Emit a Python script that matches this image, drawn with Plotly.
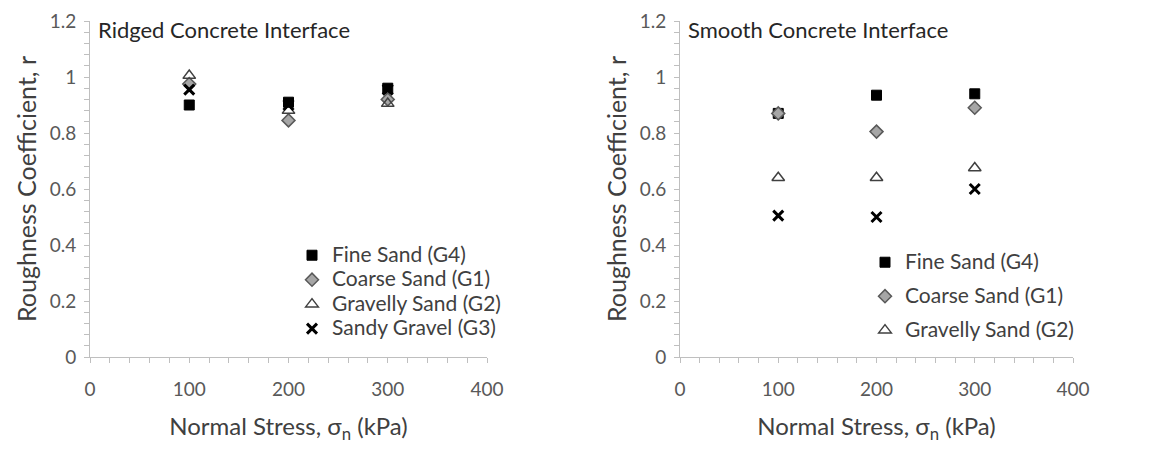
import plotly.graph_objects as go

# Normal stress levels (kPa)
stress = [100, 200, 300]

# Roughness coefficient r, ridged concrete interface
ridged_fine = [0.90, 0.91, 0.96]
ridged_coarse = [0.975, 0.845, 0.92]
ridged_gravelly = [1.005, 0.88, 0.905]
ridged_sandy_gravel = [0.955, 0.90, 0.955]

# Roughness coefficient r, smooth concrete interface
smooth_fine = [0.87, 0.935, 0.94]
smooth_coarse = [0.87, 0.805, 0.89]
smooth_gravelly = [0.64, 0.64, 0.675]
smooth_sandy_gravel = [0.505, 0.50, 0.60]

series_names = ["Fine Sand (G4)", "Coarse Sand (G1)", "Gravelly Sand (G2)", "Sandy Gravel (G3)"]

FONT = "Lato"
AXIS_GRAY = "#bfbfbf"
TICK_TEXT = "#595959"
TITLE_TEXT = "#404040"

styles = [
    dict(symbol="square", size=10, color="black", line=dict(color="black", width=1)),
    dict(symbol="diamond", size=10, color="#a6a6a6", line=dict(color="#595959", width=1.5)),
    dict(symbol="triangle-up-open", size=11, color="#404040", line=dict(color="#404040", width=1.5)),
    dict(symbol="x-thin", size=10, color="black", line=dict(color="black", width=3)),
]


def legend_label(name):
    # larger glyphs inside a tightly spaced legend
    return f'<span style="font-size:21px">{name}</span>'


fig = go.Figure()

ridged = [ridged_fine, ridged_coarse, ridged_gravelly, ridged_sandy_gravel]
smooth = [smooth_fine, smooth_coarse, smooth_gravelly, smooth_sandy_gravel]

for i, (name, vals) in enumerate(zip(series_names, ridged)):
    fig.add_trace(go.Scatter(
        x=stress, y=vals, mode="markers", name=legend_label(name), marker=styles[i],
        xaxis="x", yaxis="y", legend="legend", showlegend=True,
    ))

for i, (name, vals) in enumerate(zip(series_names, smooth)):
    fig.add_trace(go.Scatter(
        x=stress, y=vals, mode="markers", name=legend_label(name), marker=styles[i],
        xaxis="x2", yaxis="y2", legend="legend2", legendgroup=f"s{i}",
        showlegend=(i < 3),
    ))

W, H = 1156, 450
y_dom = [1 - 357 / H, 1 - 21 / H]


def xaxis_style(domain, anchor):
    return dict(
        domain=domain, anchor=anchor, range=[0, 400], dtick=100, tick0=0,
        automargin=False,
        showgrid=False, zeroline=False, showline=True, linecolor=AXIS_GRAY, linewidth=1,
        ticks="outside", ticklen=5, tickcolor=AXIS_GRAY, ticklabelstandoff=10,
        minor=dict(dtick=20, ticks="outside", ticklen=5, tickcolor=AXIS_GRAY, showgrid=False),
        tickfont=dict(family=FONT, size=19, color=TICK_TEXT),
        title=dict(text="Normal Stress, σ<sub>n</sub> (kPa)",
                   font=dict(family=FONT, size=24, color=TITLE_TEXT), standoff=19),
    )


def yaxis_style(anchor):
    return dict(
        domain=y_dom, anchor=anchor, range=[0, 1.2], dtick=0.2, tick0=0,
        automargin=False,
        showgrid=False, zeroline=False, showline=True, linecolor=AXIS_GRAY, linewidth=1,
        ticks="outside", ticklen=5, tickcolor=AXIS_GRAY, ticklabelstandoff=4,
        minor=dict(dtick=0.04, ticks="outside", ticklen=5, tickcolor=AXIS_GRAY, showgrid=False),
        tickfont=dict(family=FONT, size=19, color=TICK_TEXT),
        title=dict(text="Roughness Coefficient, r",
                   font=dict(family=FONT, size=25, color=TITLE_TEXT), standoff=5),
    )


legend_font = dict(family=FONT, size=16.5, color=TITLE_TEXT)

fig.update_layout(
    width=W, height=H,
    margin=dict(l=0, r=0, t=0, b=0),
    paper_bgcolor="white", plot_bgcolor="white",
    xaxis=xaxis_style([90 / W, 487 / W], "y"),
    yaxis=yaxis_style("x"),
    xaxis2=xaxis_style([680 / W, 1073 / W], "y2"),
    yaxis2=yaxis_style("x2"),
    legend=dict(x=292 / W, y=1 - 238 / H, xanchor="left", yanchor="top",
                bgcolor="rgba(0,0,0,0)", font=legend_font, tracegroupgap=0,
                itemclick=False),
    legend2=dict(x=865 / W, y=1 - 245 / H, xanchor="left", yanchor="top",
                 bgcolor="rgba(0,0,0,0)", font=legend_font, tracegroupgap=9.5,
                 itemclick=False),
    annotations=[
        dict(text="Ridged Concrete Interface", x=96 / W, y=1 - 30 / H,
             xref="paper", yref="paper", xanchor="left", yanchor="middle",
             showarrow=False, font=dict(family=FONT, size=22, color="#262626")),
        dict(text="Smooth Concrete Interface", x=686 / W, y=1 - 30 / H,
             xref="paper", yref="paper", xanchor="left", yanchor="middle",
             showarrow=False, font=dict(family=FONT, size=22, color="#262626")),
    ],
)

fig.write_html("out.html")
